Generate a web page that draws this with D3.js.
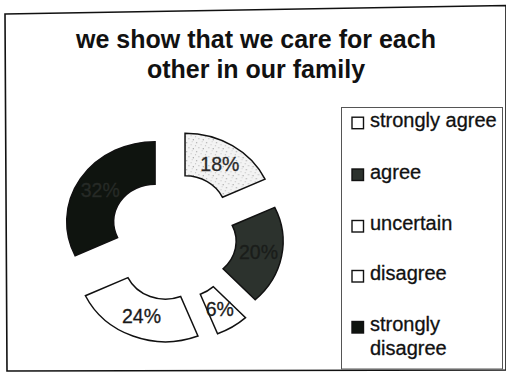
<!DOCTYPE html>
<html>
<head>
<meta charset="utf-8">
<script src="https://cdn.jsdelivr.net/npm/d3@7/dist/d3.min.js"></script>
<style>
  html, body { margin: 0; padding: 0; background: #fff; }
  svg { display: block; }
  text { font-family: "Liberation Sans", Arial, sans-serif; }
</style>
</head>
<body>
<div id="chart"></div>
<script>
// Survey answers for: "we show that we care for each other in our family"
const categories = ["strongly agree", "agree", "uncertain", "disagree", "strongly disagree"];
const values = [18, 20, 6, 24, 32];
const fills = ["url(#speckle)", "#2c322d", "#ffffff", "#ffffff", "#0f140f"];
const swatchFills = ["#ffffff", "#2c322d", "#ffffff", "#ffffff", "#0f140f"];
const labelColors = ["#2a2a2a", "#1a1d1a", "#1a1a1a", "#1a1a1a", "#262a26"];
const titleLines = ["we show that we care for each", "other in our family"];

const W = 506, H = 376;
const svg = d3.select("#chart").append("svg")
  .attr("width", W).attr("height", H);

// light speckled texture for the first slice
const defs = svg.append("defs");
const pat = defs.append("pattern")
  .attr("id", "speckle").attr("patternUnits", "userSpaceOnUse")
  .attr("width", 9).attr("height", 9);
pat.append("rect").attr("width", 9).attr("height", 9).attr("fill", "#f3f3f3");
[[1,1,"#9a9a9a"],[5,3,"#c4c4c4"],[3,6,"#b0b0b0"],[7,7,"#8c8c8c"],[6,0,"#d0d0d0"],[0,4,"#bdbdbd"]]
  .forEach(([x, y, c]) => pat.append("rect").attr("x", x).attr("y", y)
    .attr("width", 1).attr("height", 1).attr("fill", c));

// outer frame
svg.append("path")
  .attr("d", "M5,14 L506,5.5 L506,370 L7,371 Z")
  .attr("fill", "none").attr("stroke", "#111").attr("stroke-width", 1.6);

// title
const title = svg.append("text")
  .attr("text-anchor", "middle")
  .attr("font-size", 25).attr("font-weight", "bold").attr("fill", "#111");
titleLines.forEach((t, i) => title.append("tspan")
  .attr("x", 256).attr("y", 48 + i * 30).text(t));

// exploded doughnut
const cx = 173.4, cy = 236.3;
const rOuter = 80, rInner = 37.5;
const sx = 1.105;                 // horizontal stretch of the ring
const explodeX = 21.7, explodeY = 27.3;

const pie = d3.pie().sort(null).value(d => d)(values);
const arc = d3.arc().innerRadius(rInner).outerRadius(rOuter);

const ring = svg.append("g").attr("transform", `translate(${cx},${cy})`);
const slices = ring.selectAll("g.slice").data(pie).join("g")
  .attr("class", "slice")
  .attr("transform", d => {
    const b = (d.startAngle + d.endAngle) / 2;
    return `translate(${explodeX * Math.sin(b)},${-explodeY * Math.cos(b)})`;
  });

slices.append("path")
  .attr("transform", `scale(${sx},1)`)
  .attr("d", arc)
  .attr("fill", (d, i) => fills[i])
  .attr("stroke", "#111")
  .attr("stroke-width", 1.5)
  .attr("stroke-linejoin", "miter")
  .attr("vector-effect", "non-scaling-stroke");

slices.append("text")
  .attr("x", d => arc.centroid(d)[0] * sx)
  .attr("y", d => arc.centroid(d)[1])
  .attr("dy", "0.36em")
  .attr("text-anchor", "middle")
  .attr("font-size", 19.5)
  .attr("fill", (d, i) => labelColors[i])
  .attr("stroke", (d, i) => labelColors[i])
  .attr("stroke-width", 0.3)
  .text(d => d.data + "%");

// legend
const legend = svg.append("g");
legend.append("rect")
  .attr("x", 341.5).attr("y", 107.5).attr("width", 161).attr("height", 261.5)
  .attr("fill", "#fff").attr("stroke", "#555").attr("stroke-width", 1);

const baselines = [126.7, 178.5, 230, 280, 331];
const maxTextW = 128;
categories.forEach((c, i) => {
  const y = baselines[i];
  legend.append("rect")
    .attr("x", 352).attr("y", y - 9.5).attr("width", 11.5).attr("height", 11.5)
    .attr("fill", swatchFills[i]).attr("stroke", "#111").attr("stroke-width", 1.4);
  const t = legend.append("text")
    .attr("x", 370).attr("y", y)
    .attr("font-size", 20).attr("fill", "#111")
    .attr("stroke", "#111").attr("stroke-width", 0.3);
  // wrap long labels onto a second line
  const words = c.split(" ");
  let line = [], lineNo = 0;
  let tspan = t.append("tspan").attr("x", 370).attr("y", y);
  words.forEach(w => {
    line.push(w);
    tspan.text(line.join(" "));
    if (tspan.node().getComputedTextLength() > maxTextW && line.length > 1) {
      line.pop();
      tspan.text(line.join(" "));
      line = [w];
      lineNo++;
      tspan = t.append("tspan").attr("x", 370).attr("y", y + lineNo * 23.5).text(w);
    }
  });
});
</script>
</body>
</html>
